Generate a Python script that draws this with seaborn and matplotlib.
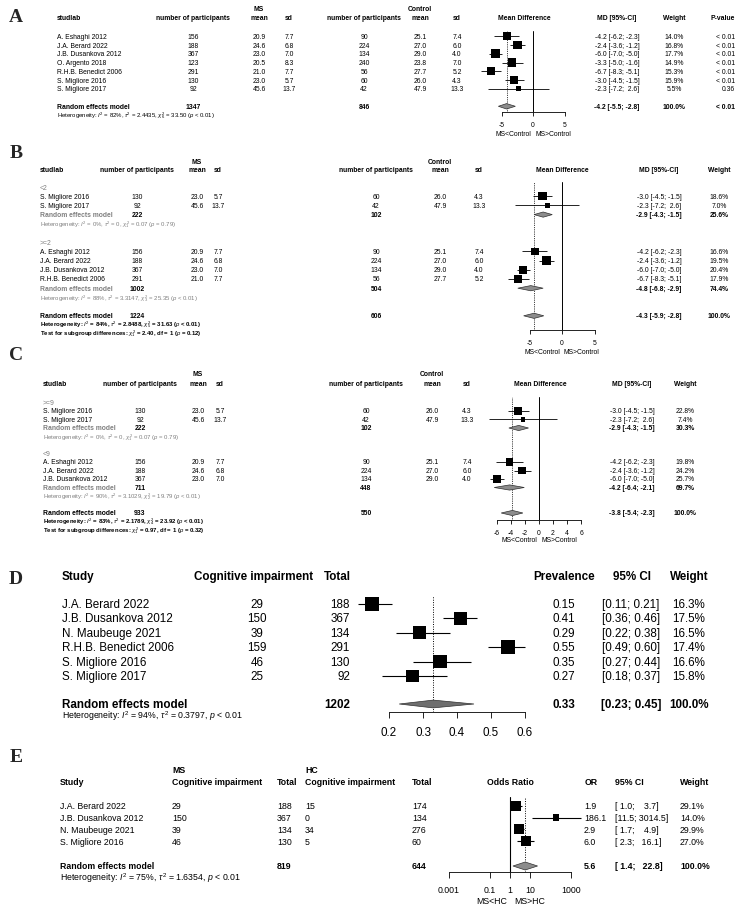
import numpy as np
import matplotlib.pyplot as plt
import seaborn as sns

sns.set_style('white')
plt.rcParams['font.family'] = ['Liberation Sans', 'DejaVu Sans']
plt.rcParams['mathtext.fontset'] = 'custom'
plt.rcParams['mathtext.rm'] = 'Liberation Sans'
plt.rcParams['mathtext.it'] = 'Liberation Sans:italic'
plt.rcParams['mathtext.bf'] = 'Liberation Sans:bold'

# ---------------- A: MS vs control, all studies ----------------
a_study = ["A. Eshaghi 2012", "J.A. Berard 2022", "J.B. Dusankova 2012", "O. Argento 2018",
           "R.H.B. Benedict 2006", "S. Migliore 2016", "S. Migliore 2017"]
a_ms_n = [156, 188, 367, 123, 291, 130, 92]
a_ms_mean = [20.9, 24.6, 23.0, 20.5, 21.0, 23.0, 45.6]
a_ms_sd = [7.7, 6.8, 7.0, 8.3, 7.7, 5.7, 13.7]
a_hc_n = [90, 224, 134, 240, 56, 60, 42]
a_hc_mean = [25.1, 27.0, 29.0, 23.8, 27.7, 26.0, 47.9]
a_hc_sd = [7.4, 6.0, 4.0, 7.0, 5.2, 4.3, 13.3]
a_md = [-4.2, -2.4, -6.0, -3.3, -6.7, -3.0, -2.3]
a_lo = [-6.2, -3.6, -7.0, -5.0, -8.3, -4.5, -7.2]
a_hi = [-2.3, -1.2, -5.0, -1.6, -5.1, -1.5, 2.6]
a_w = [14.0, 16.8, 17.7, 14.9, 15.3, 15.9, 5.5]
a_p = ["< 0.01", "< 0.01", "< 0.01", "< 0.01", "< 0.01", "< 0.01", "0.36"]
a_tot_n = [1347, 846]
a_re = [-4.2, -5.5, -2.8]
a_het = r"Heterogeneity: $I^2$ = 82%, $\tau^2$ = 2.4435, $\chi^2_6$ = 33.50 ($p$ < 0.01)"

# ---------------- B: subgroups by <2 / >=2 ----------------
b_study = ["S. Migliore 2016", "S. Migliore 2017", "A. Eshaghi 2012", "J.A. Berard 2022",
           "J.B. Dusankova 2012", "R.H.B. Benedict 2006"]
b_group = [0, 0, 1, 1, 1, 1]
b_ms_n = [130, 92, 156, 188, 367, 291]
b_ms_mean = [23.0, 45.6, 20.9, 24.6, 23.0, 21.0]
b_ms_sd = [5.7, 13.7, 7.7, 6.8, 7.0, 7.7]
b_hc_n = [60, 42, 90, 224, 134, 56]
b_hc_mean = [26.0, 47.9, 25.1, 27.0, 29.0, 27.7]
b_hc_sd = [4.3, 13.3, 7.4, 6.0, 4.0, 5.2]
b_md = [-3.0, -2.3, -4.2, -2.4, -6.0, -6.7]
b_lo = [-4.5, -7.2, -6.2, -3.6, -7.0, -8.3]
b_hi = [-1.5, 2.6, -2.3, -1.2, -5.0, -5.1]
b_w = [18.6, 7.0, 16.6, 19.5, 20.4, 17.9]
b_sub_label = ["<2", ">=2"]
b_sub_ms_n = [222, 1002]
b_sub_hc_n = [102, 504]
b_sub_md = [-2.9, -4.8]
b_sub_lo = [-4.3, -6.8]
b_sub_hi = [-1.5, -2.9]
b_sub_w = [25.6, 74.4]
b_sub_het = [r"Heterogeneity: $I^2$ = 0%, $\tau^2$ = 0, $\chi^2_1$ = 0.07 ($p$ = 0.79)",
             r"Heterogeneity: $I^2$ = 88%, $\tau^2$ = 3.3147, $\chi^2_3$ = 25.35 ($p$ < 0.01)"]
b_tot_n = [1224, 606]
b_re = [-4.3, -5.9, -2.8]
b_het = r"Heterogeneity: $I^2$ = 84%, $\tau^2$ = 2.8488, $\chi^2_5$ = 31.63 ($p$ < 0.01)"
b_test = r"Test for subgroup differences: $\chi^2_1$ = 2.40, df = 1 ($p$ = 0.12)"

# ---------------- C: subgroups by >=9 / <9 ----------------
c_study = ["S. Migliore 2016", "S. Migliore 2017", "A. Eshaghi 2012", "J.A. Berard 2022",
           "J.B. Dusankova 2012"]
c_group = [0, 0, 1, 1, 1]
c_ms_n = [130, 92, 156, 188, 367]
c_ms_mean = [23.0, 45.6, 20.9, 24.6, 23.0]
c_ms_sd = [5.7, 13.7, 7.7, 6.8, 7.0]
c_hc_n = [60, 42, 90, 224, 134]
c_hc_mean = [26.0, 47.9, 25.1, 27.0, 29.0]
c_hc_sd = [4.3, 13.3, 7.4, 6.0, 4.0]
c_md = [-3.0, -2.3, -4.2, -2.4, -6.0]
c_lo = [-4.5, -7.2, -6.2, -3.6, -7.0]
c_hi = [-1.5, 2.6, -2.3, -1.2, -5.0]
c_w = [22.8, 7.4, 19.8, 24.2, 25.7]
c_sub_label = [">=9", "<9"]
c_sub_ms_n = [222, 711]
c_sub_hc_n = [102, 448]
c_sub_md = [-2.9, -4.2]
c_sub_lo = [-4.3, -6.4]
c_sub_hi = [-1.5, -2.1]
c_sub_w = [30.3, 69.7]
c_sub_het = [r"Heterogeneity: $I^2$ = 0%, $\tau^2$ = 0, $\chi^2_1$ = 0.07 ($p$ = 0.79)",
             r"Heterogeneity: $I^2$ = 90%, $\tau^2$ = 3.1029, $\chi^2_2$ = 19.79 ($p$ < 0.01)"]
c_tot_n = [933, 550]
c_re = [-3.8, -5.4, -2.3]
c_het = r"Heterogeneity: $I^2$ = 83%, $\tau^2$ = 2.1789, $\chi^2_4$ = 23.92 ($p$ < 0.01)"
c_test = r"Test for subgroup differences: $\chi^2_1$ = 0.97, df = 1 ($p$ = 0.32)"

# ---------------- D: prevalence of cognitive impairment ----------------
d_study = ["J.A. Berard 2022", "J.B. Dusankova 2012", "N. Maubeuge 2021",
           "R.H.B. Benedict 2006", "S. Migliore 2016", "S. Migliore 2017"]
d_events = [29, 150, 39, 159, 46, 25]
d_total = [188, 367, 134, 291, 130, 92]
d_prev = [0.15, 0.41, 0.29, 0.55, 0.35, 0.27]
d_lo = [0.11, 0.36, 0.22, 0.49, 0.27, 0.18]
d_hi = [0.21, 0.46, 0.38, 0.60, 0.44, 0.37]
d_w = [16.3, 17.5, 16.5, 17.4, 16.6, 15.8]
d_tot_n = 1202
d_re = [0.33, 0.23, 0.45]
d_het = r"Heterogeneity: $I^2$ = 94%, $\tau^2$ = 0.3797, $p$ < 0.01"

# ---------------- E: odds ratio MS vs HC ----------------
e_study = ["J.A. Berard 2022", "J.B. Dusankova 2012", "N. Maubeuge 2021", "S. Migliore 2016"]
e_ms_events = [29, 150, 39, 46]
e_ms_total = [188, 367, 134, 130]
e_hc_events = [15, 0, 34, 5]
e_hc_total = [174, 134, 276, 60]
e_or = [1.9, 186.1, 2.9, 6.0]
e_lo = [1.0, 11.5, 1.7, 2.3]
e_hi = [3.7, 3014.5, 4.9, 16.1]
e_w = [29.1, 14.0, 29.9, 27.0]
e_tot_n = [819, 644]
e_re = [5.6, 1.4, 22.8]
e_het = r"Heterogeneity: $I^2$ = 75%, $\tau^2$ = 1.6354, $p$ < 0.01"

W, H = 744, 912
GREY = '#808080'
fig = plt.figure(figsize=(W / 100, H / 100), dpi=100)
bg = fig.add_axes([0, 0, 1, 1])
bg.set_xlim(0, W)
bg.set_ylim(H, 0)
bg.axis('off')


def txt(x, y, s, fs, ha='center', bold=False, color='black'):
    bg.text(x, y, s, fontsize=fs, ha=ha, va='center', color=color,
            fontweight='bold' if bold else 'normal')


def letter(y, s):
    bg.text(16, y, s, fontsize=14, ha='center', va='center', fontweight='bold',
            family='Liberation Serif')


def forest_ax(x0, x1, top, bottom, zero, scale, log=False):
    ax = fig.add_axes([x0 / W, 1 - bottom / H, (x1 - x0) / W, (bottom - top) / H])
    ax.patch.set_alpha(0)
    if log:
        ax.set_xscale('log')
        ax.set_xlim(10 ** ((x0 - zero) / scale), 10 ** ((x1 - zero) / scale))
    else:
        ax.set_xlim(scale[0] + (x0 - zero) / scale[1], scale[0] + (x1 - zero) / scale[1])
    ax.set_ylim(bottom, top)
    for sp in ['left', 'right', 'top']:
        ax.spines[sp].set_visible(False)
    ax.set_yticks([])
    return ax


def x_axis(ax, ticks, labels, fs, length, pad):
    ax.spines['bottom'].set_bounds(ticks[0], ticks[-1])
    ax.spines['bottom'].set_linewidth(0.6)
    ax.spines['bottom'].set_color('black')
    ax.set_xticks(ticks)
    ax.set_xticklabels(labels)
    ax.minorticks_off()
    ax.tick_params(axis='x', bottom=True, direction='out', length=length, width=0.6,
                   labelsize=fs, pad=pad, colors='black')
    ax.set_xlabel('')
    ax.set_ylabel('')


def squares(ax, est, lo, hi, w, rows, side_px, lw=0.6):
    ax.hlines(rows, lo, hi, color='black', lw=lw, zorder=2)
    side_pt = side_px * 0.72 * np.sqrt(np.asarray(w) / max(w))
    sns.scatterplot(x=est, y=rows, marker='s', s=side_pt ** 2, color='black',
                    linewidth=0, ax=ax, zorder=3, legend=False)


def diamond(ax, est, lo, hi, y, h, fc='#8c8c8c'):
    ax.fill([lo, est, hi, est], [y, y - h, y, y + h], facecolor=fc,
            edgecolor='#303030', lw=0.5, zorder=3)


def ci(est, lo, hi):
    return f"{est:.1f} [{lo:.1f}; {hi:4.1f}]"


FS = 4.9
FSH = 4.3


def md_header(c, y1, y2, pval=False):
    txt(c['msm'], y1, 'MS', FS, bold=True)
    txt(c['hcm'], y1, 'Control', FS, bold=True)
    txt(c['lab'], y2, 'studlab', FS, ha='left', bold=True)
    txt(c['msn'], y2, 'number of participants', FS, bold=True)
    txt(c['msm'], y2, 'mean', FS, bold=True)
    txt(c['mss'], y2, 'sd', FS, bold=True)
    txt(c['hcn'], y2, 'number of participants', FS, bold=True)
    txt(c['hcm'], y2, 'mean', FS, bold=True)
    txt(c['hcs'], y2, 'sd', FS, bold=True)
    txt(c['fp'], y2, 'Mean Difference', FS, bold=True)
    txt(c['md'], y2, 'MD [95%-CI]', FS, bold=True)
    txt(c['w'], y2, 'Weight', FS, bold=True)
    if pval:
        txt(c['p'], y2, 'P-value', FS, ha='right', bold=True)


def md_study(c, y, name, msn, msm, mss, hcn, hcm, hcs, est, lo, hi, w):
    txt(c['lab'], y, name, FS, ha='left')
    txt(c['msn'], y, f"{msn}", FS)
    txt(c['msm'], y, f"{msm:.1f}", FS)
    txt(c['mss'], y, f"{mss:.1f}", FS)
    txt(c['hcn'], y, f"{hcn}", FS)
    txt(c['hcm'], y, f"{hcm:.1f}", FS)
    txt(c['hcs'], y, f"{hcs:.1f}", FS)
    txt(c['md'], y, ci(est, lo, hi), FS)
    txt(c['w'], y, f"{w:.1f}%", FS)


def md_summary(c, y, msn, hcn, est, lo, hi, w, color='black'):
    txt(c['lab'], y, 'Random effects model', FS, ha='left', bold=True, color=color)
    txt(c['msn'], y, f"{msn}", FS, bold=True)
    txt(c['hcn'], y, f"{hcn}", FS, bold=True)
    txt(c['md'], y, ci(est, lo, hi), FS, bold=True)
    txt(c['w'], y, f"{w:.1f}%", FS, bold=True)


# ======================= panel A =======================
ca = dict(lab=57, msn=193, msm=259, mss=289, hcn=364, hcm=420, hcs=457, fp=524, md=617, w=674, p=735)
letter(17, 'A')
md_header(ca, 9.5, 19, pval=True)
a_rows = 37.3 + 8.75 * np.arange(len(a_study))
a_re_y = 37.3 + 8.75 * (len(a_study) + 1)
for i in range(len(a_study)):
    md_study(ca, a_rows[i], a_study[i], a_ms_n[i], a_ms_mean[i], a_ms_sd[i], a_hc_n[i],
             a_hc_mean[i], a_hc_sd[i], a_md[i], a_lo[i], a_hi[i], a_w[i])
    txt(ca['p'], a_rows[i], a_p[i], FS, ha='right')
md_summary(ca, a_re_y, a_tot_n[0], a_tot_n[1], a_re[0], a_re[1], a_re[2], 100.0)
txt(ca['p'], a_re_y, '< 0.01', FS, ha='right', bold=True)
txt(ca['lab'], 115.5, a_het, FSH, ha='left')

ax = forest_ax(470, 600, 32, 112.5, 533, (0, 6.3))
ax.axvline(0, color='black', lw=0.7, zorder=1)
ax.axvline(a_re[0], color='black', lw=0.6, ls=(0, (1, 1.2)), zorder=1)
squares(ax, a_md, a_lo, a_hi, a_w, a_rows, 9)
diamond(ax, a_re[0], a_re[1], a_re[2], a_re_y, 2.7)
x_axis(ax, [-5, 0, 5], ['-5', '0', '5'], FS, 3, 4)
txt(531, 134, 'MS<Control', FS, ha='right')
txt(535, 134, 'MS>Control', FS, ha='left')


# ================== panels B and C (subgroups) ==================
def sub_panel(c, y0, step, study, group, msn, msm, mss, hcn, hcm, hcs, est, lo, hi, w,
              s_lab, s_msn, s_hcn, s_md, s_lo, s_hi, s_w, s_het):
    rows = np.zeros(len(study))
    sub_y = []
    idx = 0
    for g in range(len(s_lab)):
        members = [i for i in range(len(study)) if group[i] == g]
        txt(c['lab'], y0 + step * idx, s_lab[g], FS, ha='left', color=GREY)
        for k, i in enumerate(members):
            rows[i] = y0 + step * (idx + 1 + k)
            md_study(c, rows[i], study[i], msn[i], msm[i], mss[i], hcn[i], hcm[i], hcs[i],
                     est[i], lo[i], hi[i], w[i])
        ry = y0 + step * (idx + 1 + len(members))
        sub_y.append(ry)
        md_summary(c, ry, s_msn[g], s_hcn[g], s_md[g], s_lo[g], s_hi[g], s_w[g], color=GREY)
        txt(c['lab'], ry + step, s_het[g], FSH, ha='left', color=GREY)
        idx += len(members) + 4
    return rows, sub_y, y0 + step * idx


# ----- B -----
cb = dict(lab=40, msn=137, msm=197, mss=218, hcn=376, hcm=440, hcs=479, fp=562, md=659, w=719)
letter(153, 'B')
md_header(cb, 162, 171)
b_rows, b_sub_y, b_tot_y = sub_panel(cb, 188, 9.2, b_study, b_group, b_ms_n, b_ms_mean, b_ms_sd,
                                     b_hc_n, b_hc_mean, b_hc_sd, b_md, b_lo, b_hi, b_w,
                                     b_sub_label, b_sub_ms_n, b_sub_hc_n, b_sub_md, b_sub_lo,
                                     b_sub_hi, b_sub_w, b_sub_het)
md_summary(cb, b_tot_y, b_tot_n[0], b_tot_n[1], b_re[0], b_re[1], b_re[2], 100.0)
txt(cb['lab'], b_tot_y + 7.6, b_het, FSH, ha='left', bold=True)
txt(cb['lab'], b_tot_y + 16.6, b_test, FSH, ha='left', bold=True)

ax = forest_ax(495, 630, 183, 331, 562, (0, 6.5))
ax.axvline(0, color='black', lw=0.7, zorder=1)
ax.axvline(b_re[0], color='black', lw=0.6, ls=(0, (1, 1.2)), zorder=1)
squares(ax, b_md, b_lo, b_hi, b_w, b_rows, 8.5)
for g in range(len(b_sub_label)):
    diamond(ax, b_sub_md[g], b_sub_lo[g], b_sub_hi[g], b_sub_y[g], 2.6)
diamond(ax, b_re[0], b_re[1], b_re[2], b_tot_y, 2.6)
x_axis(ax, [-5, 0, 5], ['-5', '0', '5'], FS, 3, 3.6)
txt(560, 353, 'MS<Control', FS, ha='right')
txt(564, 353, 'MS>Control', FS, ha='left')

# ----- C -----
cc = dict(lab=43, msn=140, msm=198, mss=220, hcn=366, hcm=432, hcs=467, fp=540, md=632, w=685)
letter(356, 'C')
md_header(cc, 375, 385)
c_rows, c_sub_y, c_tot_y = sub_panel(cc, 403.5, 8.5, c_study, c_group, c_ms_n, c_ms_mean, c_ms_sd,
                                     c_hc_n, c_hc_mean, c_hc_sd, c_md, c_lo, c_hi, c_w,
                                     c_sub_label, c_sub_ms_n, c_sub_hc_n, c_sub_md, c_sub_lo,
                                     c_sub_hi, c_sub_w, c_sub_het)
md_summary(cc, c_tot_y, c_tot_n[0], c_tot_n[1], c_re[0], c_re[1], c_re[2], 100.0)
txt(cc['lab'], c_tot_y + 7.6, c_het, FSH, ha='left', bold=True)
txt(cc['lab'], c_tot_y + 16.6, c_test, FSH, ha='left', bold=True)

ax = forest_ax(475, 600, 398, 520.5, 539, (0, 7.0))
ax.axvline(0, color='black', lw=0.7, zorder=1)
ax.axvline(c_re[0], color='black', lw=0.6, ls=(0, (1, 1.2)), zorder=1)
squares(ax, c_md, c_lo, c_hi, c_w, c_rows, 8)
for g in range(len(c_sub_label)):
    diamond(ax, c_sub_md[g], c_sub_lo[g], c_sub_hi[g], c_sub_y[g], 2.6)
diamond(ax, c_re[0], c_re[1], c_re[2], c_tot_y, 2.6)
ticks_c = [-6, -4, -2, 0, 2, 4, 6]
x_axis(ax, ticks_c, [str(t) for t in ticks_c], FS, 3, 3.5)
txt(537, 541, 'MS<Control', FS, ha='right')
txt(542, 541, 'MS>Control', FS, ha='left')

# ======================= panel D =======================
FD = 8.4
letter(580, 'D')
txt(62, 577, 'Study', FD, ha='left', bold=True)
txt(254, 577, 'Cognitive impairment', FD, bold=True)
txt(351, 577, 'Total', FD, ha='right', bold=True)
txt(564, 577, 'Prevalence', FD, bold=True)
txt(632, 577, '95% CI', FD, bold=True)
txt(689, 577, 'Weight', FD, bold=True)
d_rows = 605 + 14.4 * np.arange(len(d_study))
d_re_y = 605 + 14.4 * (len(d_study) + 1) - 0.8
for i in range(len(d_study)):
    y = d_rows[i]
    txt(62, y, d_study[i], FD, ha='left')
    txt(257, y, f"{d_events[i]}", FD)
    txt(350, y, f"{d_total[i]}", FD, ha='right')
    txt(564, y, f"{d_prev[i]:.2f}", FD)
    txt(631, y, f"[{d_lo[i]:.2f}; {d_hi[i]:.2f}]", FD)
    txt(689, y, f"{d_w[i]:.1f}%", FD)
txt(62, d_re_y, 'Random effects model', FD, ha='left', bold=True)
txt(350, d_re_y, f"{d_tot_n}", FD, ha='right', bold=True)
txt(564, d_re_y, f"{d_re[0]:.2f}", FD, bold=True)
txt(631, d_re_y, f"[{d_re[1]:.2f}; {d_re[2]:.2f}]", FD, bold=True)
txt(689, d_re_y, '100.0%', FD, bold=True)
txt(62, 716, d_het, 6.3, ha='left')

ax = forest_ax(340, 540, 597, 713, 389, (0.2, 340))
ax.axvline(d_re[0], color='black', lw=0.7, ls=(0, (1, 1.5)), zorder=1)
squares(ax, d_prev, d_lo, d_hi, d_w, d_rows, 13.5, lw=0.8)
diamond(ax, d_re[0], d_re[1], d_re[2], d_re_y, 3.9, fc='#6e6e6e')
ticks_d = [0.2, 0.3, 0.4, 0.5, 0.6]
x_axis(ax, ticks_d, [f"{t:.1f}" for t in ticks_d], FD, 4.5, 5.5)

# ======================= panel E =======================
FE = 6.3
letter(758, 'E')
txt(172, 771, 'MS', FE, ha='left', bold=True)
txt(305, 771, 'HC', FE, ha='left', bold=True)
txt(60, 783, 'Study', FE, ha='left', bold=True)
txt(172, 783, 'Cognitive impairment', FE, ha='left', bold=True)
txt(277, 783, 'Total', FE, ha='left', bold=True)
txt(305, 783, 'Cognitive impairment', FE, ha='left', bold=True)
txt(412, 783, 'Total', FE, ha='left', bold=True)
txt(510, 783, 'Odds Ratio', FE, bold=True)
txt(585, 783, 'OR', FE, ha='left', bold=True)
txt(615, 783, '95% CI', FE, ha='left', bold=True)
txt(680, 783, 'Weight', FE, ha='left', bold=True)
e_rows = 807 + 11.7 * np.arange(len(e_study))
e_re_y = 867
for i in range(len(e_study)):
    y = e_rows[i]
    txt(60, y, e_study[i], FE, ha='left')
    txt(172, y, f"{e_ms_events[i]}", FE, ha='left')
    txt(277, y, f"{e_ms_total[i]}", FE, ha='left')
    txt(305, y, f"{e_hc_events[i]}", FE, ha='left')
    txt(412, y, f"{e_hc_total[i]}", FE, ha='left')
    txt(584, y, f"{e_or[i]:.1f}", FE, ha='left')
    txt(615, y, f"[{e_lo[i]:4.1f}; {e_hi[i]:6.1f}]", FE, ha='left')
    txt(680, y, f"{e_w[i]:.1f}%", FE, ha='left')
txt(60, e_re_y, 'Random effects model', FE, ha='left', bold=True)
txt(277, e_re_y, f"{e_tot_n[0]}", FE, ha='left', bold=True)
txt(412, e_re_y, f"{e_tot_n[1]}", FE, ha='left', bold=True)
txt(584, e_re_y, f"{e_re[0]:.1f}", FE, ha='left', bold=True)
txt(615, e_re_y, f"[{e_re[1]:4.1f}; {e_re[2]:6.1f}]", FE, ha='left', bold=True)
txt(680, e_re_y, '100.0%', FE, ha='left', bold=True)
txt(60, 878, e_het, FE, ha='left')

ax = forest_ax(440, 590, 798, 873, 510, 20.3, log=True)
ax.axvline(1, color='black', lw=0.8, zorder=1)
ax.axvline(e_re[0], color='black', lw=0.7, ls=(0, (1, 1.5)), zorder=1)
squares(ax, e_or, e_lo, e_hi, e_w, e_rows, 10, lw=0.8)
diamond(ax, e_re[0], e_re[1], e_re[2], e_re_y, 4.0, fc='#8c8c8c')
ticks_e = [0.001, 0.1, 1, 10, 1000]
x_axis(ax, ticks_e, ['0.001', '0.1', '1', '10', '1000'], FE, 4, 5.5)
txt(507, 902, 'MS<HC', FE, ha='right')
txt(514, 902, 'MS>HC', FE, ha='left')

fig.savefig('out.png', dpi=100)
